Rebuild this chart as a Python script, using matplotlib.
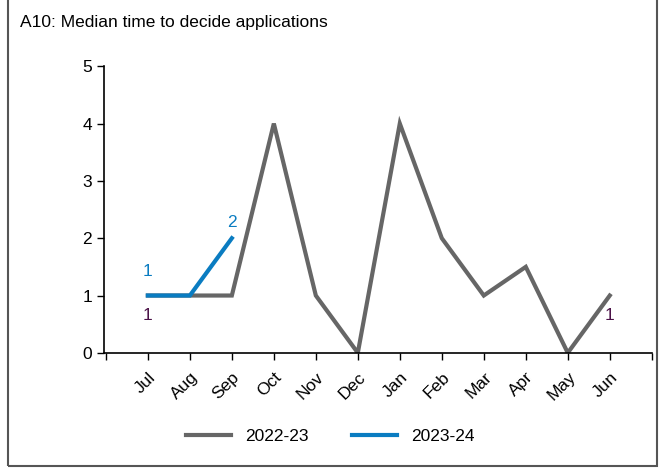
import matplotlib
matplotlib.use('Agg')
import matplotlib.pyplot as plt
from matplotlib.patches import Rectangle

months = ['Jul', 'Aug', 'Sep', 'Oct', 'Nov', 'Dec', 'Jan', 'Feb', 'Mar', 'Apr', 'May', 'Jun']
values_2223 = [1, 1, 1, 4, 1, 0, 4, 2, 1, 1.5, 0, 1]
values_2324 = [1, 1, 2]

GREY = '#666666'
BLUE = '#0a7cc1'
PURPLE = '#4b1248'

plt.rcParams['font.family'] = ['Liberation Sans', 'DejaVu Sans']

fig = plt.figure(figsize=(6.61, 4.73), dpi=100)
ax = fig.add_axes([0.157, 0.254, 0.829, 0.606])

x1 = list(range(len(values_2223)))
x2 = list(range(len(values_2324)))
ax.plot(x1, values_2223, color=GREY, lw=3, label='2022-23', solid_joinstyle='miter')
ax.plot(x2, values_2324, color=BLUE, lw=3, label='2023-24', solid_joinstyle='miter')

# data labels
ax.annotate('1', (x2[0], values_2324[0]), xytext=(0, 12), textcoords='offset points',
            ha='center', va='bottom', color=BLUE, fontsize=12.5)
ax.annotate('2', (x2[2], values_2324[2]), xytext=(0, 6), textcoords='offset points',
            ha='center', va='bottom', color=BLUE, fontsize=12.5)
ax.annotate('1', (x1[0], values_2223[0]), xytext=(0, -9), textcoords='offset points',
            ha='center', va='top', color=PURPLE, fontsize=12.5)
ax.annotate('1', (x1[-1], values_2223[-1]), xytext=(0, -9), textcoords='offset points',
            ha='center', va='top', color=PURPLE, fontsize=12.5)

ax.set_xlim(-1.05, 12.0)
ax.set_ylim(0, 5)
ax.set_yticks(range(6))
ax.set_xticks(range(-1, 13))
ax.set_xticklabels([''] + months + [''], rotation=45, ha='right', rotation_mode='anchor')
ax.tick_params(axis='both', direction='out', length=5, width=1, labelsize=12.5, colors='black')
ax.tick_params(axis='x', pad=7)
for s in ['top', 'right']:
    ax.spines[s].set_visible(False)
ax.spines['left'].set_linewidth(1.2)
ax.spines['bottom'].set_linewidth(1.2)

fig.text(0.03, 0.952, 'A10: Median time to decide applications', fontsize=12.5, va='center')

fig.legend(loc='center', bbox_to_anchor=(0.5, 0.078), ncol=2, frameon=False,
           fontsize=12.5, handlelength=2.6, columnspacing=2.5)

fig.patches.append(Rectangle((0.012, 0.014), 0.982, 1.0, transform=fig.transFigure,
                             fill=False, edgecolor='#555555', lw=1.5))

fig.savefig('out.png', dpi=100)
